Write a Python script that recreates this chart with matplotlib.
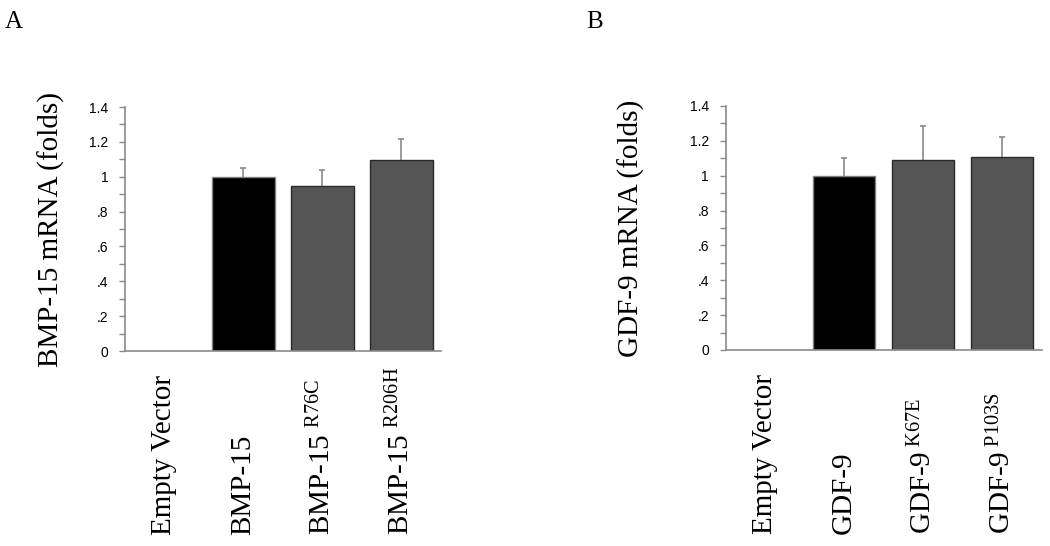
import matplotlib
matplotlib.use("Agg")
import matplotlib.pyplot as plt
import matplotlib.transforms as mtransforms
from matplotlib.ticker import MultipleLocator, FixedLocator

plt.rcParams['mathtext.fontset'] = 'custom'
plt.rcParams['mathtext.rm'] = 'Liberation Serif'
plt.rcParams['mathtext.it'] = 'Liberation Serif:italic'

# ---- data ----
labels_a = ["Empty Vector", "BMP-15", "BMP-15 $^{\\mathrm{R76C}}$", "BMP-15 $^{\\mathrm{R206H}}$"]
values_a = [0.0, 1.00, 0.948, 1.096]
errors_a = [0.0, 0.053, 0.090, 0.118]

labels_b = ["Empty Vector", "GDF-9", "GDF-9$^{\\mathrm{\\ K67E}}$", "GDF-9$^{\\mathrm{\\ P103S}}$"]
values_b = [0.0, 1.00, 1.090, 1.107]
errors_b = [0.0, 0.100, 0.193, 0.117]

ylabel_a = "BMP-15 mRNA (folds)"
ylabel_b = "GDF-9 mRNA (folds)"
yticks = [0, 0.2, 0.4, 0.6, 0.8, 1.0, 1.2, 1.4]
ytick_labels = ["0", ".2", ".4", ".6", ".8", "1", "1.2", "1.4"]

fill_colors = ["none", "#000000", "#555555", "#555555"]
edge_colors = ["none", "#808080", "#2a2a2a", "#2a2a2a"]

fig = plt.figure(figsize=(10.5, 5.46), dpi=100)
ax_a = fig.add_axes([0.119, 0.357, 0.301, 0.447])
ax_b = fig.add_axes([0.691, 0.359, 0.301, 0.447])

def draw(ax, labels, values, errors, ylabel, labelpad, letter, letter_x):
    x = list(range(len(values)))
    ex = [xi for xi, e in zip(x, errors) if e > 0]
    ev = [v for v, e in zip(values, errors) if e > 0]
    ee = [e for e in errors if e > 0]
    _, caps, _ = ax.errorbar(ex, ev, yerr=[[0]*len(ee), ee], fmt='none',
                             ecolor='#8a8a8a', elinewidth=1.2, capsize=2.5,
                             capthick=1.2, zorder=1)
    if caps:
        caps[0].set_visible(False)
    ax.bar(x, values, width=0.79, color=fill_colors, edgecolor=edge_colors,
           linewidth=1.0, zorder=2)
    ax.set_xlim(-0.5, 3.5)
    ax.set_ylim(0, 1.4)
    for s in ["top", "right"]:
        ax.spines[s].set_visible(False)
    for s in ["left", "bottom"]:
        ax.spines[s].set_color("#8a8a8a")
        ax.spines[s].set_linewidth(1.2)
    ax.yaxis.set_major_locator(FixedLocator(yticks))
    ax.set_yticklabels(ytick_labels, fontsize=10, family="Liberation Sans")
    ax.yaxis.set_minor_locator(MultipleLocator(0.1))
    ax.tick_params(axis='y', which='both', length=4, width=1, color="#8a8a8a", pad=8)
    ax.set_xticks([])
    trans = mtransforms.blended_transform_factory(ax.transData, ax.transAxes)
    for xi, lab in zip(x, labels):
        ax.text(xi, -0.755, lab, transform=trans, rotation=90, ha='center', va='bottom',
                fontsize=21, family="Liberation Serif")
    ax.set_ylabel(ylabel, fontsize=21, family="Liberation Serif", labelpad=labelpad)
    fig.text(letter_x, 1 - 28.5/546, letter, fontsize=18, family="Liberation Serif",
             ha='center', va='baseline')

draw(ax_a, labels_a, values_a, errors_a, ylabel_a, 17, "A", 14/1050)
draw(ax_b, labels_b, values_b, errors_b, ylabel_b, 32, "B", 595/1050)

fig.savefig("out.png", dpi=100)
